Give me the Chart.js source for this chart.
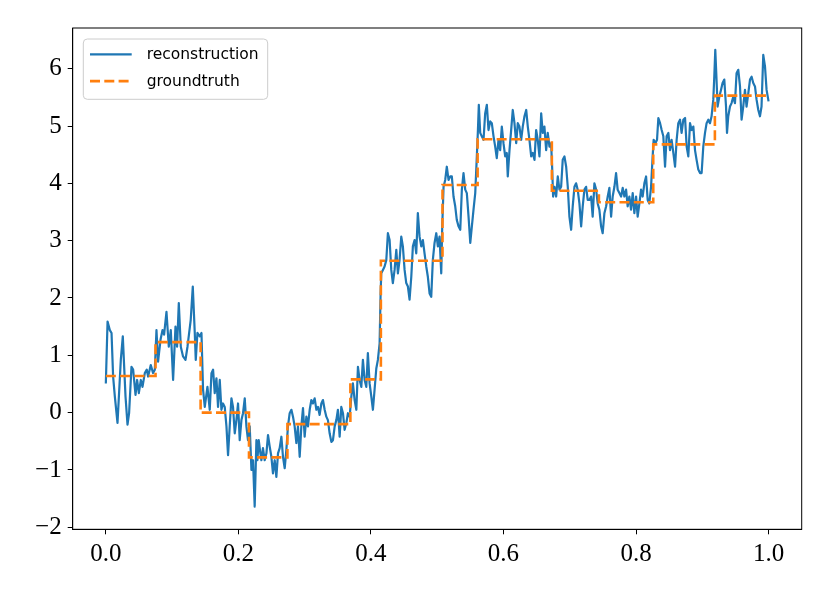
<!DOCTYPE html>
<html>
<head>
  <title>Reconstruction vs groundtruth</title>
  <script src="https://cdn.jsdelivr.net/npm/chart.js"></script>
  <style>
    body { margin: 0; background: #fff; }
    canvas { display: block; }
  </style>
</head>
<body>

<canvas id="chart" width="830" height="593"></canvas>

<script>
  const reconX = [
    0, 0.0026, 0.0060, 0.0086, 0.0110, 0.0136, 0.0176, 0.0226, 0.0256, 0.0297,
    0.0327, 0.0351, 0.0387, 0.0412, 0.0448, 0.0472, 0.0498, 0.0528, 0.0553, 0.0588,
    0.0618, 0.0638, 0.0678, 0.0713, 0.0739, 0.0764, 0.0788, 0.0825, 0.0855, 0.0879,
    0.0915, 0.0950, 0.0980, 0.1015, 0.1051, 0.1075, 0.1101, 0.1131, 0.1165, 0.1202,
    0.1232, 0.1281, 0.1312, 0.1342, 0.1357, 0.1382, 0.1417, 0.1443, 0.1467, 0.1493,
    0.1533, 0.1568, 0.1594, 0.1618, 0.1643, 0.1669, 0.1693, 0.1719, 0.1744, 0.1768,
    0.1794, 0.1820, 0.1844, 0.1869, 0.1895, 0.1919, 0.1945, 0.1970, 0.1995, 0.2020,
    0.2046, 0.2070, 0.2096, 0.2121, 0.2145, 0.2171, 0.2197, 0.2221, 0.2246, 0.2272,
    0.2287, 0.2307, 0.2332, 0.2347, 0.2371, 0.2397, 0.2423, 0.2447, 0.2472, 0.2498,
    0.2522, 0.2548, 0.2573, 0.2598, 0.2623, 0.2649, 0.2673, 0.2699, 0.2724, 0.2748,
    0.2774, 0.2800, 0.2824, 0.2849, 0.2875, 0.2899, 0.2925, 0.2950, 0.2975, 0.3000,
    0.3026, 0.3050, 0.3076, 0.3101, 0.3125, 0.3151, 0.3177, 0.3201, 0.3226, 0.3252,
    0.3276, 0.3302, 0.3327, 0.3351, 0.3377, 0.3403, 0.3427, 0.3453, 0.3478, 0.3502,
    0.3528, 0.3553, 0.3578, 0.3603, 0.3629, 0.3653, 0.3679, 0.3704, 0.3728, 0.3754,
    0.3780, 0.3804, 0.3829, 0.3855, 0.3879, 0.3905, 0.3930, 0.3954, 0.3980, 0.4006,
    0.4030, 0.4055, 0.4081, 0.4105, 0.4131, 0.4146, 0.4156, 0.4181, 0.4206, 0.4232,
    0.4256, 0.4282, 0.4307, 0.4331, 0.4357, 0.4383, 0.4407, 0.4432, 0.4458, 0.4482,
    0.4508, 0.4533, 0.4558, 0.4583, 0.4609, 0.4633, 0.4659, 0.4684, 0.4708, 0.4734,
    0.4760, 0.4784, 0.4809, 0.4835, 0.4859, 0.4885, 0.4910, 0.4934, 0.4960, 0.4986,
    0.5010, 0.5035, 0.5061, 0.5076, 0.5096, 0.5121, 0.5145, 0.5171, 0.5197, 0.5221,
    0.5246, 0.5272, 0.5296, 0.5322, 0.5348, 0.5372, 0.5397, 0.5423, 0.5447, 0.5473,
    0.5499, 0.5523, 0.5548, 0.5574, 0.5598, 0.5613, 0.5628, 0.5649, 0.5673, 0.5699,
    0.5724, 0.5749, 0.5774, 0.5800, 0.5824, 0.5850, 0.5875, 0.5899, 0.5925, 0.5950,
    0.5975, 0.6000, 0.6026, 0.6050, 0.6065, 0.6091, 0.6116, 0.6140, 0.6166, 0.6192,
    0.6216, 0.6241, 0.6267, 0.6291, 0.6317, 0.6343, 0.6367, 0.6392, 0.6418, 0.6442,
    0.6468, 0.6493, 0.6517, 0.6543, 0.6569, 0.6593, 0.6618, 0.6644, 0.6668, 0.6694,
    0.6719, 0.6734, 0.6749, 0.6769, 0.6795, 0.6819, 0.6845, 0.6870, 0.6894, 0.6920,
    0.6946, 0.6970, 0.6995, 0.7021, 0.7045, 0.7071, 0.7096, 0.7120, 0.7146, 0.7172,
    0.7196, 0.7221, 0.7247, 0.7271, 0.7297, 0.7322, 0.7346, 0.7372, 0.7398, 0.7422,
    0.7447, 0.7473, 0.7497, 0.7523, 0.7549, 0.7573, 0.7598, 0.7624, 0.7648, 0.7674,
    0.7699, 0.7723, 0.7749, 0.7775, 0.7799, 0.7824, 0.7850, 0.7874, 0.7900, 0.7925,
    0.7950, 0.7975, 0.8001, 0.8025, 0.8051, 0.8076, 0.8100, 0.8126, 0.8152, 0.8176,
    0.8201, 0.8227, 0.8251, 0.8266, 0.8292, 0.8317, 0.8337, 0.8363, 0.8387, 0.8412,
    0.8438, 0.8462, 0.8488, 0.8513, 0.8537, 0.8563, 0.8589, 0.8613, 0.8638, 0.8664,
    0.8688, 0.8714, 0.8740, 0.8764, 0.8789, 0.8815, 0.8839, 0.8865, 0.8890, 0.8914,
    0.8940, 0.8966, 0.8990, 0.9015, 0.9041, 0.9065, 0.9091, 0.9116, 0.9140, 0.9166,
    0.9181, 0.9196, 0.9211, 0.9231, 0.9257, 0.9282, 0.9306, 0.9332, 0.9358, 0.9373,
    0.9392, 0.9418, 0.9442, 0.9467, 0.9493, 0.9517, 0.9543, 0.9569, 0.9593, 0.9618,
    0.9644, 0.9668, 0.9694, 0.9720, 0.9744, 0.9769, 0.9795, 0.9819, 0.9845, 0.9870,
    0.9894, 0.9920, 0.9946, 0.9970, 1.0
  ];

  const reconY = [
    0.51, 1.59, 1.44, 1.39, 0.63, 0.28, -0.18, 0.92, 1.33, 0.28,
    -0.21, -0.01, 0.80, 0.75, 0.31, 0.57, 0.34, 0.57, 0.45, 0.69,
    0.75, 0.63, 0.83, 0.69, 0.75, 1.44, 0.89, 1.27, 1.44, 1.36,
    1.76, 1.15, 1.44, 0.57, 1.50, 1.15, 1.91, 1.15, 0.98, 0.92,
    1.15, 1.62, 2.20, 1.39, 0.92, 1.39, 1.33, 1.39, 0.40, 0.10,
    0.45, 0.05, 0.69, 0.75, 0.34, 0.60, 0.10, 0.57, 0.05, 0.16,
    0.10, -0.24, -0.74, -0.24, 0.25, 0.10, -0.36, -0.13, 0.16, -0.48,
    -0.13, -0.01, 0.25, -0.24, -0.48, -0.24, -1.00, -0.83, -1.64, -0.48,
    -0.83, -0.48, -0.71, -0.83, -0.62, -0.83, -0.71, -0.39, -0.59, -0.77,
    -1.06, -0.83, -1.12, -0.71, -0.62, -0.42, -0.77, -0.97, -0.65, -0.24,
    -0.01, 0.05, -0.07, -0.24, -0.53, -0.24, -0.77, -0.24, 0.08, -0.42,
    -0.07, -0.24, 0.05, 0.22, 0.16, 0.25, 0.05, 0.10, -0.04, 0.16,
    0.22, 0.05, -0.07, -0.13, -0.36, -0.51, -0.48, -0.24, -0.13, 0.05,
    -0.42, 0.10, -0.01, -0.30, -0.18, -0.01, -0.07, 0.28, 0.51, 0.22,
    0.05, 0.80, 0.57, 0.45, 0.92, 0.57, 0.45, 1.04, 0.51, 0.28,
    0.05, 0.40, 0.77, 0.92, 1.21, 2.08, 2.43, 2.49, 2.55, 2.66,
    3.13, 3.01, 2.49, 2.26, 2.49, 2.84, 2.43, 2.66, 3.07, 2.90,
    2.49, 2.26, 2.20, 1.97, 2.37, 2.90, 3.01, 2.78, 3.48, 3.07,
    2.90, 3.01, 2.78, 2.55, 2.37, 2.08, 2.02, 2.66, 2.96, 3.13,
    2.90, 3.07, 2.43, 3.25, 3.94, 4.06, 4.29, 4.06, 4.12, 4.12,
    3.77, 3.60, 3.36, 3.25, 3.19, 3.89, 4.18, 3.89, 3.83, 3.42,
    2.96, 3.25, 3.54, 3.83, 4.47, 4.88, 5.37, 4.88, 4.82, 4.76,
    5.22, 5.37, 4.93, 5.08, 5.05, 4.82, 4.64, 4.44, 4.76, 4.58,
    4.99, 4.70, 4.47, 4.53, 4.12, 4.58, 4.93, 5.28, 5.05, 4.70,
    5.05, 4.99, 4.76, 4.99, 5.17, 5.28, 4.99, 4.76, 4.47, 4.53,
    4.41, 4.93, 4.76, 4.47, 5.22, 4.88, 4.99, 4.58, 4.88, 4.64,
    4.70, 4.29, 3.77, 3.94, 3.77, 4.12, 3.89, 3.94, 4.41, 4.47,
    4.29, 3.94, 3.42, 3.19, 3.60, 3.94, 4.00, 3.89, 3.65, 3.25,
    3.60, 3.89, 3.94, 3.71, 3.71, 3.77, 3.42, 4.00, 3.89, 3.65,
    3.54, 3.25, 3.13, 3.48, 3.60, 3.77, 3.92, 3.42, 3.77, 3.94,
    4.18, 3.89, 3.83, 3.77, 3.92, 3.77, 3.89, 3.60, 3.77, 3.54,
    3.83, 3.48, 3.77, 3.42, 3.65, 3.89, 3.77, 4.00, 4.12, 3.71,
    3.65, 3.94, 4.47, 4.76, 4.70, 4.76, 5.14, 5.05, 4.93, 4.82,
    4.29, 4.82, 4.88, 4.58, 4.76, 4.53, 4.29, 4.76, 5.05, 5.11,
    4.88, 5.11, 5.14, 4.64, 4.47, 5.05, 4.93, 4.99, 4.58, 4.41,
    4.24, 4.18, 4.18, 4.64, 4.88, 5.05, 5.11, 5.05, 5.17, 5.46,
    5.86, 6.33, 5.92, 5.34, 5.51, 5.63, 5.75, 5.81, 5.34, 4.88,
    5.17, 5.34, 5.40, 5.51, 5.40, 5.92, 5.98, 5.69, 5.11, 5.34,
    5.63, 5.34, 5.57, 5.81, 5.86, 5.75, 5.69, 5.46, 5.28, 5.17,
    5.34, 6.24, 6.04, 5.63, 5.43
  ];

  // groundtruth is piecewise constant: level i holds from gtStepX[i] to the next step
  const gtStepX = [0, 0.075, 0.143, 0.216, 0.274, 0.369, 0.415, 0.508, 0.561, 0.673, 0.744, 0.826, 0.919];
  const gtLevels = [0.64, 1.23, 0.0, -0.78, -0.20, 0.58, 2.65, 3.97, 4.77, 3.87, 3.67, 4.68, 5.53];
  const gtEndX = 1.0;

  const xTicks = [0, 0.2, 0.4, 0.6, 0.8, 1.0];
  const yTicks = [-2, -1, 0, 1, 2, 3, 4, 5, 6];

  const reconPoints = reconX.map((x, i) => ({ x, y: reconY[i] }));
  const gtPoints = gtStepX.map((x, i) => ({ x, y: gtLevels[i] }));
  gtPoints.push({ x: gtEndX, y: gtLevels[gtLevels.length - 1] });

  const tickFont = { family: '"Liberation Serif", serif', size: 25 };

  // closes the frame on top/right and draws the legend inside the axes
  const frameAndLegend = {
    id: 'frameAndLegend',
    afterDraw(chart) {
      const ctx = chart.ctx;
      const a = chart.chartArea;
      ctx.save();
      ctx.strokeStyle = '#000';
      ctx.lineWidth = 1;
      ctx.strokeRect(a.left, a.top, a.right - a.left, a.bottom - a.top);

      const bx = a.left + 10.6, by = a.top + 11;
      ctx.beginPath();
      ctx.roundRect(bx, by, 184.4, 60.3, 4);
      ctx.fillStyle = 'rgba(255,255,255,0.8)';
      ctx.fill();
      ctx.strokeStyle = '#cccccc';
      ctx.stroke();

      ctx.font = '15.5px "DejaVu Sans", sans-serif';
      ctx.textBaseline = 'middle';
      chart.data.datasets.forEach((ds, i) => {
        const ly = by + 15.3 + i * 26.8;
        ctx.beginPath();
        ctx.setLineDash(ds.borderDash || []);
        ctx.strokeStyle = ds.borderColor;
        ctx.lineWidth = ds.borderWidth;
        ctx.moveTo(bx + 6.7, ly);
        ctx.lineTo(bx + 48.4, ly);
        ctx.stroke();
        ctx.setLineDash([]);
        ctx.fillStyle = '#000';
        ctx.fillText(ds.label, bx + 63.4, ly + 1);
      });
      ctx.restore();
    }
  };

  new Chart(document.getElementById('chart'), {
    type: 'line',
    data: {
      datasets: [
        {
          label: 'reconstruction',
          data: reconPoints,
          borderColor: '#1f77b4',
          borderWidth: 2.2,
          borderJoinStyle: 'round',
          pointRadius: 0,
          tension: 0,
          order: 1
        },
        {
          label: 'groundtruth',
          data: gtPoints,
          borderColor: '#ff7f0e',
          borderWidth: 2.6,
          borderDash: [10, 4.3],
          stepped: true,
          pointRadius: 0,
          order: 0
        }
      ]
    },
    options: {
      responsive: false,
      animation: false,
      events: [],
      layout: { padding: { top: 28, right: 28.3, left: 0, bottom: 0 } },
      plugins: { legend: { display: false }, tooltip: { enabled: false } },
      scales: {
        x: {
          type: 'linear',
          min: -0.05,
          max: 1.05,
          afterFit: s => { s.height = 63.7; },
          afterBuildTicks: s => { s.ticks = xTicks.map(v => ({ value: v })); },
          grid: { drawOnChartArea: false, drawTicks: true, tickLength: 5, color: '#000' },
          border: { display: true, color: '#000', width: 1 },
          ticks: {
            font: tickFont, color: '#000', padding: 5, maxRotation: 0,
            callback: v => v.toFixed(1)
          }
        },
        y: {
          type: 'linear',
          min: -2.035,
          max: 6.71,
          afterFit: s => { s.width = 72.7; },
          afterBuildTicks: s => { s.ticks = yTicks.map(v => ({ value: v })); },
          grid: { drawOnChartArea: false, drawTicks: true, tickLength: 5, color: '#000' },
          border: { display: true, color: '#000', width: 1 },
          ticks: {
            font: tickFont, color: '#000', padding: 6,
            callback: v => (v < 0 ? '\u2212' + Math.abs(v) : String(v))
          }
        }
      }
    },
    plugins: [frameAndLegend]
  });
</script>

</body>
</html>
